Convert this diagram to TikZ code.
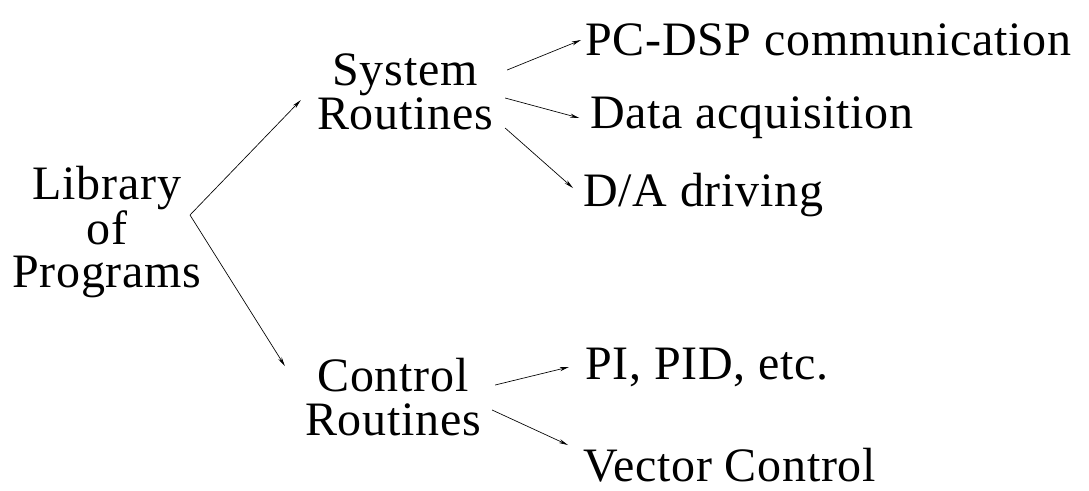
\documentclass[tikz,border=0pt]{standalone}
\usepackage{fontspec}
\setmainfont[LetterSpace=1.5]{Liberation Serif}
\usetikzlibrary{arrows.meta}

\tikzset{
  lbl/.style={inner sep=0pt, align=center, font=\fontsize{36}{32.5}\selectfont},
  leaf/.style={lbl, anchor=west},
  arr/.style={-{Stealth[length=7pt,width=3pt]}, line width=0.5pt}
}

\begin{document}
\begin{tikzpicture}[x=0.75pt,y=-0.75pt]
			\useasboundingbox (0,0) rectangle (1089,490);
			% left and middle text
			\node[lbl] (lib) at (107,232) {Library\\of\\Programs};
			\node[lbl] (sys) at (405,92) {System\\Routines};
			\node[lbl] (ctrl) at (393,397) {Control\\Routines};
			% leaves
			\node[leaf] (pcdsp) at (585,40) {PC-DSP communication};
			\node[leaf] (data) at (590,118) {Data acquisition};
			\node[leaf] (da) at (583,195) {D/A driving};
			\node[leaf] (pi) at (585,367) {PI, PID, etc.};
			\node[leaf] (vec) at (583,465) {Vector Control};
			% connectors
			\coordinate (fork) at (190,215);
			\draw[arr] (fork) -- ([shift={(-16,8)}]sys.west);
			\draw[arr] (fork) -- ([shift={(-20,-31)}]ctrl.west);
			\draw[arr] ([shift={(14,-22)}]sys.east) -- ([xshift=-3]pcdsp.west);
			\draw[arr] ([shift={(12,6)}]sys.east) -- ([xshift=-8]data.west);
			\draw[arr] ([shift={(12,36)}]sys.east) -- ([shift={(-10,-7)}]da.west);
			\draw[arr] ([shift={(14,-12)}]ctrl.east) -- ([xshift=-12]pi.west);
			\draw[arr] ([shift={(11,13)}]ctrl.east) -- ([shift={(-15,-20)}]vec.west);
\end{tikzpicture}
\end{document}
